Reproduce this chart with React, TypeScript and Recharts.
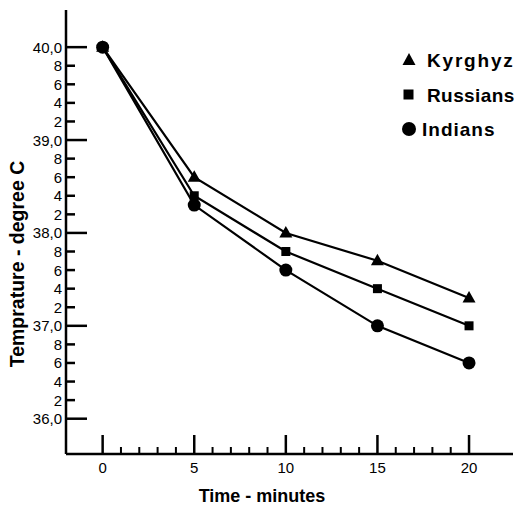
import React from 'react';
import { LineChart, Line, XAxis, YAxis, Customized } from 'recharts';

const minutes = [0, 5, 10, 15, 20];
const kyrghyz = [40.0, 38.6, 38.0, 37.7, 37.3];
const russians = [40.0, 38.4, 37.8, 37.4, 37.0];
const indians = [40.0, 38.3, 37.6, 37.0, 36.6];

const seriesNames = ['Kyrghyz', 'Russians', 'Indians'];

const xTicks = [0, 1, 2, 3, 4, 5, 6, 7, 8, 9, 10, 11, 12, 13, 14, 15, 16, 17, 18, 19, 20];
const xTickLabels = ['0', '', '', '', '', '5', '', '', '', '', '10', '', '', '', '', '15', '', '', '', '', '20'];

const yTicks = [
  36.0, 36.2, 36.4, 36.6, 36.8,
  37.0, 37.2, 37.4, 37.6, 37.8,
  38.0, 38.2, 38.4, 38.6, 38.8,
  39.0, 39.2, 39.4, 39.6, 39.8,
  40.0,
];
const yTickLabels = [
  '36,0', '2', '4', '6', '8',
  '37,0', '2', '4', '6', '8',
  '38,0', '2', '4', '6', '8',
  '39,0', '2', '4', '6', '8',
  '40,0',
];

const xTitle = 'Time - minutes';
const yTitle = 'Temprature - degree C';

const data = minutes.map((t, i) => ({
  t,
  kyrghyz: kyrghyz[i],
  russians: russians[i],
  indians: indians[i],
}));

const FONT = '"Liberation Sans", Arial, Helvetica, sans-serif';

const findIdx = (arr: number[], v: number) => arr.findIndex((a) => Math.abs(a - v) < 1e-6);

const YTick = (props: any) => {
  const { x, y, payload } = props;
  const idx = findIdx(yTicks, payload.value);
  const label = idx >= 0 ? yTickLabels[idx] : '';
  const major = label.includes(',');
  return (
    <g>
      <line x1={x} x2={x + (major ? 21 : 9)} y1={y} y2={y} stroke="#000" strokeWidth={2.5} />
      <text x={x - 4} y={y} dy={5.5} textAnchor="end" fontSize={15} fontFamily={FONT} fill="#000">
        {label}
      </text>
    </g>
  );
};

const XTick = (props: any) => {
  const { x, y, payload } = props;
  const idx = findIdx(xTicks, payload.value);
  const label = idx >= 0 ? xTickLabels[idx] : '';
  const major = label !== '';
  return (
    <g>
      <line x1={x} x2={x} y1={y} y2={y - (major ? 19 : 7)} stroke="#000" strokeWidth={major ? 2.5 : 2} />
      {major && (
        <text x={x} y={y + 19} textAnchor="middle" fontSize={15} fontFamily={FONT} fill="#000">
          {label}
        </text>
      )}
    </g>
  );
};

const TriangleDot = (props: any) => {
  const { cx, cy } = props;
  if (cx == null || cy == null) return null;
  return <path d={`M${cx},${cy - 7} L${cx + 6.5},${cy + 4.5} L${cx - 6.5},${cy + 4.5} Z`} fill="#000" />;
};
const SquareDot = (props: any) => {
  const { cx, cy } = props;
  if (cx == null || cy == null) return null;
  return <rect x={cx - 4.5} y={cy - 4.5} width={9} height={9} fill="#000" />;
};
const CircleDot = (props: any) => {
  const { cx, cy } = props;
  if (cx == null || cy == null) return null;
  return <circle cx={cx} cy={cy} r={6.5} fill="#000" />;
};

const Decorations = () => (
  <g fontFamily={FONT} fill="#000">
    <text x={262} y={502} textAnchor="middle" fontSize={18} fontWeight="bold">
      {xTitle}
    </text>
    <text
      x={0}
      y={0}
      transform="translate(17,264) rotate(-90)"
      textAnchor="middle"
      dominantBaseline="central"
      fontSize={19.5}
      fontWeight="bold"
    >
      {yTitle}
    </text>
    {/* legend */}
    <path d="M409,53 L415.5,65 L402.5,65 Z" fill="#000" />
    <text x={427} y={67} fontSize={19} fontWeight="bold" letterSpacing={1.8}>
      {seriesNames[0]}
    </text>
    <rect x={403.5} y={89.5} width={10} height={10} fill="#000" />
    <text x={427} y={101.5} fontSize={19} fontWeight="bold" letterSpacing={0.4}>
      {seriesNames[1]}
    </text>
    <circle cx={409} cy={129} r={7} fill="#000" />
    <text x={422} y={136} fontSize={19} fontWeight="bold" letterSpacing={1}>
      {seriesNames[2]}
    </text>
  </g>
);

export default function App() {
  return (
    <div style={{ position: 'absolute', left: 0, top: 0, background: '#fff' }}>
      <LineChart
        width={514}
        height={505}
        data={data}
        margin={{ top: 10, right: 1, left: 0, bottom: 0 }}
      >
        <XAxis
          type="number"
          dataKey="t"
          domain={[-2, 22.4]}
          ticks={xTicks}
          interval={0}
          tickSize={0}
          tickMargin={0}
          tickLine={false}
          tick={<XTick />}
          axisLine={{ stroke: '#000', strokeWidth: 2.5 }}
          height={51}
          allowDataOverflow
        />
        <YAxis
          type="number"
          domain={[35.62, 40.4]}
          ticks={yTicks}
          interval={0}
          tickSize={0}
          tickMargin={0}
          tickLine={false}
          tick={<YTick />}
          axisLine={{ stroke: '#000', strokeWidth: 2.5 }}
          width={66}
          allowDataOverflow
        />
        <Line
          type="linear"
          dataKey="kyrghyz"
          name={seriesNames[0]}
          stroke="#000"
          strokeWidth={2.2}
          dot={<TriangleDot />}
          activeDot={false}
          isAnimationActive={false}
        />
        <Line
          type="linear"
          dataKey="russians"
          name={seriesNames[1]}
          stroke="#000"
          strokeWidth={2.2}
          dot={<SquareDot />}
          activeDot={false}
          isAnimationActive={false}
        />
        <Line
          type="linear"
          dataKey="indians"
          name={seriesNames[2]}
          stroke="#000"
          strokeWidth={2.2}
          dot={<CircleDot />}
          activeDot={false}
          isAnimationActive={false}
        />
        <Customized component={Decorations} />
      </LineChart>
    </div>
  );
}
